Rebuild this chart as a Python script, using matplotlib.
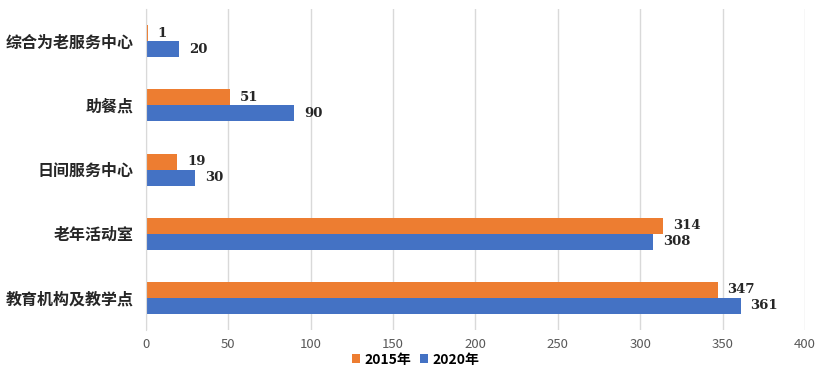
import numpy as np
import matplotlib.pyplot as plt

categories = ['综合为老服务中心', '助餐点', '日间服务中心', '老年活动室', '教育机构及教学点']
values_2015 = [1, 51, 19, 314, 347]
values_2020 = [20, 90, 30, 308, 361]

plt.rcParams['font.family'] = ['Noto Sans CJK SC', 'DejaVu Sans']

fig = plt.figure(figsize=(8.31, 3.74), dpi=100)
ax = fig.add_axes([0.1757, 0.1176, 0.793, 0.858])

y = np.arange(len(categories))
h = 0.25
b1 = ax.barh(y - h / 2, values_2015, height=h, color='#ED7D31', label='2015年')
b2 = ax.barh(y + h / 2, values_2020, height=h, color='#4472C4', label='2020年')

for bars in (b1, b2):
    for bar in bars:
        w = bar.get_width()
        ax.text(w + 6, bar.get_y() + bar.get_height() / 2, f'{int(w)}',
                va='center', ha='left', fontsize=9.5, fontweight='bold',
                family='DejaVu Serif', color='#262626')

ax.set_xlim(0, 400)
ax.set_ylim(len(categories) - 0.5, -0.5)
ax.set_xticks(range(0, 401, 50))
ax.set_yticks(y)
ax.set_yticklabels(categories, fontsize=11.5, fontweight='bold', color='#262626')
ax.tick_params(axis='x', labelsize=9.5, labelcolor='#595959', length=0, pad=6)
ax.tick_params(axis='y', length=0, pad=9)
ax.grid(axis='x', color='#D9D9D9', linewidth=1)
ax.set_axisbelow(True)
for s in ['top', 'right', 'bottom']:
    ax.spines[s].set_visible(False)
ax.spines['left'].set_color('#D9D9D9')

fig.legend(handles=[b1, b2], loc='center', bbox_to_anchor=(0.5, 0.038), ncol=2,
           frameon=False, handlelength=0.6, handleheight=0.6, handletextpad=0.3,
           columnspacing=0.6, prop={'size': 10, 'weight': 'bold'})

fig.savefig('out.png', dpi=100)
